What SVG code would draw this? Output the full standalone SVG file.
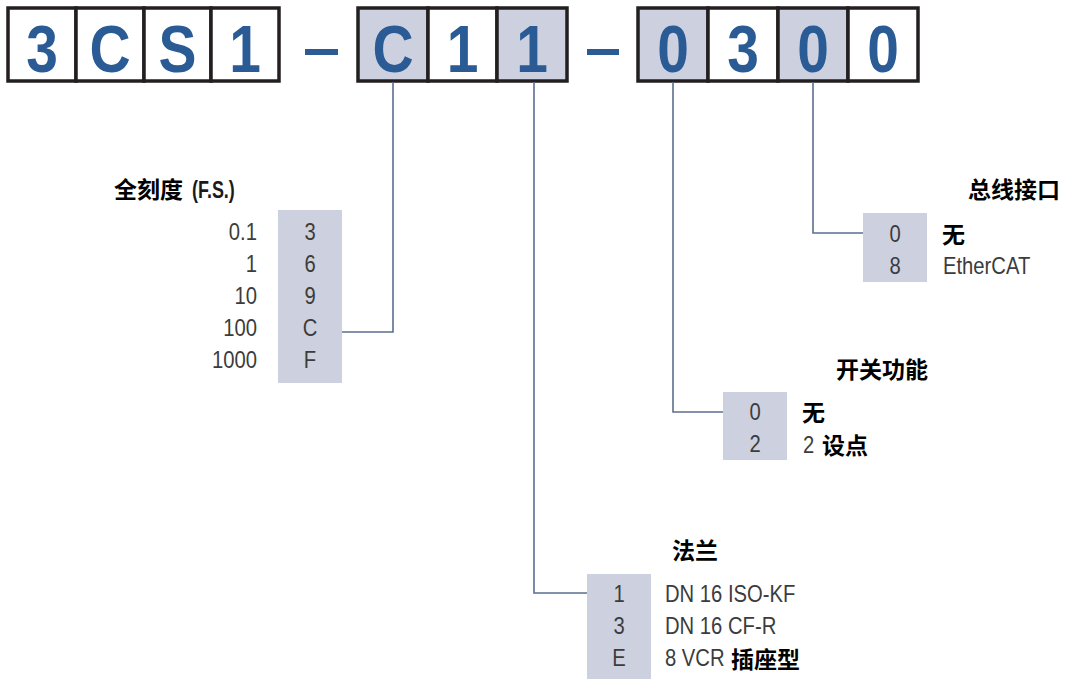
<svg xmlns="http://www.w3.org/2000/svg" width="1067" height="679" viewBox="0 0 1067 679">
<style>
.cell{fill:#ffffff;stroke:#231f20;stroke-width:3.5}
.cellS{fill:#cdd0df;stroke:#231f20;stroke-width:3.5}
.big{font-family:"Liberation Sans",Arial,sans-serif;font-weight:bold;font-size:67px;fill:#2a5b95;text-anchor:middle}
.dash{fill:#2a5b95}
.tbl{fill:#cdd0df}
.num{font-family:"Liberation Sans",Arial,sans-serif;font-size:23px;fill:#3c3c3c}
.c{text-anchor:middle}
.r{text-anchor:end}
.cn{font-family:"Noto Sans CJK SC",sans-serif;font-weight:bold;font-size:23px;fill:#000}
.fs{font-family:"Liberation Sans",Arial,sans-serif;font-weight:bold;font-size:23px;fill:#1a1a1a}
.conn{fill:none;stroke:#5b6f8e;stroke-width:1.6}
</style>
<g id="code">
<rect class="cell" x="8" y="8" width="68" height="73"/>
<rect class="cell" x="76" y="8" width="68" height="73"/>
<rect class="cell" x="144" y="8" width="67" height="73"/>
<rect class="cell" x="211" y="8" width="68" height="73"/>
<text class="big" transform="translate(42,0) scale(0.85,1)" x="0" y="72">3</text>
<text class="big" transform="translate(110,0) scale(0.85,1)" x="0" y="72">C</text>
<text class="big" transform="translate(177.5,0) scale(0.85,1)" x="0" y="72">S</text>
<text class="big" transform="translate(245,0) scale(0.85,1)" x="0" y="72">1</text>
<rect class="dash" x="305" y="49" width="33" height="6"/>
<rect class="cellS" x="358" y="8" width="70" height="73"/>
<rect class="cell" x="428" y="8" width="69" height="73"/>
<rect class="cellS" x="497" y="8" width="70" height="73"/>
<text class="big" transform="translate(393,0) scale(0.85,1)" x="0" y="72">C</text>
<text class="big" transform="translate(462.5,0) scale(0.85,1)" x="0" y="72">1</text>
<text class="big" transform="translate(532,0) scale(0.85,1)" x="0" y="72">1</text>
<rect class="dash" x="587" y="49" width="32" height="6"/>
<rect class="cellS" x="638" y="8" width="70" height="73"/>
<rect class="cell" x="708" y="8" width="70" height="73"/>
<rect class="cellS" x="778" y="8" width="70" height="73"/>
<rect class="cell" x="848" y="8" width="70" height="73"/>
<text class="big" transform="translate(673,0) scale(0.85,1)" x="0" y="72">0</text>
<text class="big" transform="translate(743,0) scale(0.85,1)" x="0" y="72">3</text>
<text class="big" transform="translate(813,0) scale(0.85,1)" x="0" y="72">0</text>
<text class="big" transform="translate(883,0) scale(0.85,1)" x="0" y="72">0</text>
</g>
<g id="connectors">
<polyline class="conn" points="393,82 393,332 342,332"/>
<polyline class="conn" points="534,82 534,593 587,593"/>
<polyline class="conn" points="673,82 673,412 723,412"/>
<polyline class="conn" points="813,82 813,233 863,233"/>
</g>
<g id="fullscale">
<text class="cn" x="114" y="198">全刻度</text>
<text class="fs" transform="translate(192,0) scale(0.78,1)" x="0" y="198">(F.S.)</text>
<rect class="tbl" x="278" y="210" width="64" height="173"/>
<text class="num r" transform="translate(257,0) scale(0.88,1)" x="0" y="240">0.1</text>
<text class="num r" transform="translate(257,0) scale(0.88,1)" x="0" y="272">1</text>
<text class="num r" transform="translate(257,0) scale(0.88,1)" x="0" y="304">10</text>
<text class="num r" transform="translate(257,0) scale(0.88,1)" x="0" y="336">100</text>
<text class="num r" transform="translate(257,0) scale(0.88,1)" x="0" y="368">1000</text>
<text class="num c" transform="translate(310,0) scale(0.88,1)" x="0" y="240">3</text>
<text class="num c" transform="translate(310,0) scale(0.88,1)" x="0" y="272">6</text>
<text class="num c" transform="translate(310,0) scale(0.88,1)" x="0" y="304">9</text>
<text class="num c" transform="translate(310,0) scale(0.88,1)" x="0" y="336">C</text>
<text class="num c" transform="translate(310,0) scale(0.88,1)" x="0" y="368">F</text>
</g>
<g id="bus">
<text class="cn" x="968" y="198">总线接口</text>
<rect class="tbl" x="863" y="213" width="64" height="69"/>
<text class="num c" transform="translate(895,0) scale(0.88,1)" x="0" y="242">0</text>
<text class="num c" transform="translate(895,0) scale(0.88,1)" x="0" y="274">8</text>
<text class="cn" x="942" y="243">无</text>
<text class="num" transform="translate(943,0) scale(0.88,1)" x="0" y="274">EtherCAT</text>
</g>
<g id="switch">
<text class="cn" x="836" y="378">开关功能</text>
<rect class="tbl" x="723" y="392" width="64" height="68"/>
<text class="num c" transform="translate(755,0) scale(0.88,1)" x="0" y="420">0</text>
<text class="num c" transform="translate(755,0) scale(0.88,1)" x="0" y="452">2</text>
<text class="cn" x="802" y="421">无</text>
<text class="num" transform="translate(803,0) scale(0.88,1)" x="0" y="453">2</text>
<text class="cn" x="822" y="454">设点</text>
</g>
<g id="flange">
<text class="cn" x="672" y="559">法兰</text>
<rect class="tbl" x="587" y="574" width="64" height="105"/>
<text class="num c" transform="translate(619,0) scale(0.88,1)" x="0" y="602">1</text>
<text class="num c" transform="translate(619,0) scale(0.88,1)" x="0" y="634">3</text>
<text class="num c" transform="translate(619,0) scale(0.88,1)" x="0" y="666">E</text>
<text class="num" transform="translate(665,0) scale(0.88,1)" x="0" y="602">DN 16 ISO-KF</text>
<text class="num" transform="translate(665,0) scale(0.88,1)" x="0" y="634">DN 16 CF-R</text>
<text class="num" transform="translate(665,0) scale(0.88,1)" x="0" y="666">8 VCR</text>
<text class="cn" x="731" y="668">插座型</text>
</g>
</svg>
